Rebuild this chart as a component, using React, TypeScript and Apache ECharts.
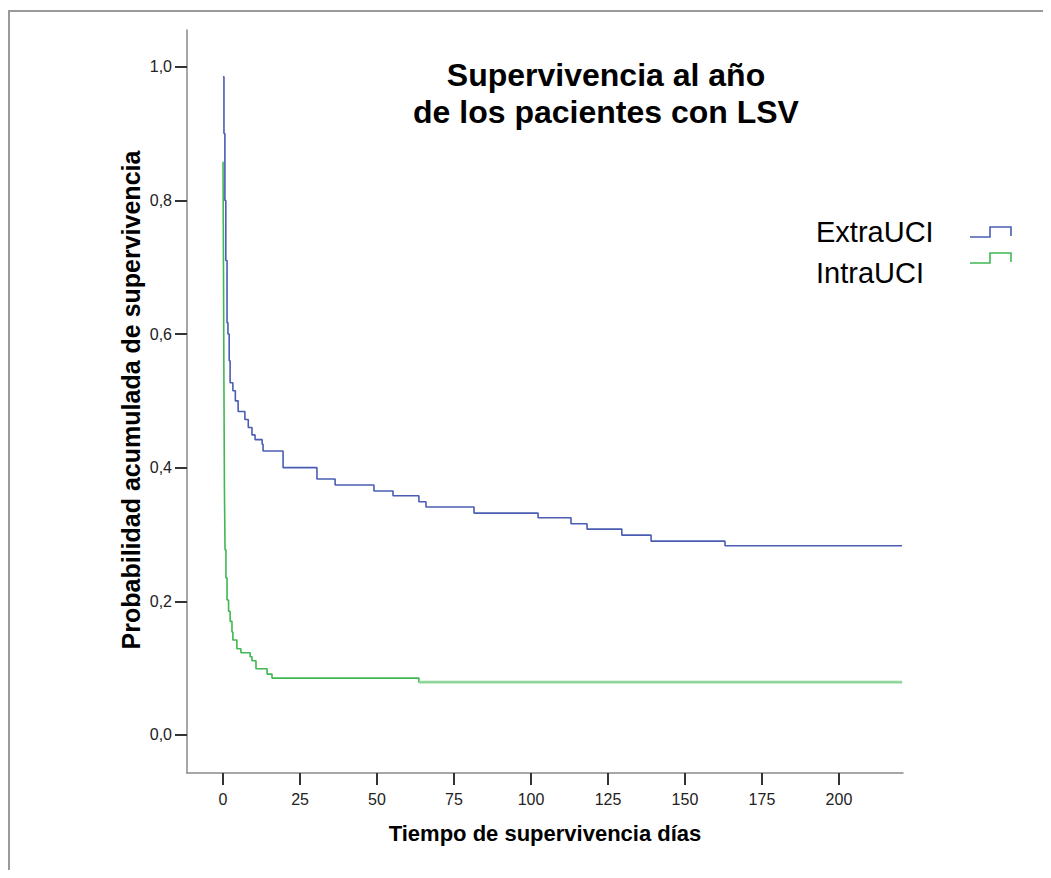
import React, { useEffect, useRef } from "react";
import * as echarts from "echarts";

const chartTitleLines = ["Supervivencia al año", "de los pacientes con LSV"];
const xAxisTitle = "Tiempo de supervivencia días";
const yAxisTitle = "Probabilidad acumulada de supervivencia";
const groupNames = ["ExtraUCI", "IntraUCI"];

const xTicks = [0, 25, 50, 75, 100, 125, 150, 175, 200];
const yTicks = [0, 0.2, 0.4, 0.6, 0.8, 1.0];

// Kaplan-Meier steps: day at which survival becomes the given value
const extraDays = [0, 0.3, 0.6, 0.9, 1.3, 1.6, 2.0, 2.3, 3.2, 4.0, 4.9, 7.1, 8.2, 9.4, 10.4, 12.7, 13.0, 19.5, 30.5, 36.4, 49.0, 55.2, 63.6, 65.9, 81.5, 102.3, 113.0, 118.2, 129.5, 139.0, 163.0, 220.5];
const extraSurv = [0.985, 0.9, 0.8, 0.71, 0.617, 0.6, 0.56, 0.527, 0.515, 0.5, 0.484, 0.472, 0.46, 0.449, 0.442, 0.435, 0.425, 0.4, 0.383, 0.374, 0.365, 0.358, 0.349, 0.341, 0.332, 0.325, 0.316, 0.308, 0.299, 0.29, 0.283, 0.283];

const intraDays = [0, 0.15, 0.3, 0.45, 0.65, 0.95, 1.3, 1.8, 2.3, 2.9, 3.2, 4.5, 5.8, 8.8, 9.4, 10.7, 14.3, 15.9, 63.6, 220.5];
const intraSurv = [0.858, 0.7, 0.52, 0.37, 0.277, 0.235, 0.202, 0.185, 0.17, 0.154, 0.142, 0.129, 0.123, 0.117, 0.111, 0.099, 0.091, 0.085, 0.079, 0.079];

const BLUE = "#4a5db3";
const GREEN = "#3fb851";
const GREEN_LIGHT = "#8ed69a";
const MAIN_FONT = "'Liberation Sans', Arial, sans-serif";

export default function App() {
  const ref = useRef<HTMLDivElement>(null);

  useEffect(() => {
    if (!ref.current) return;
    const chart = echarts.init(ref.current, null, { renderer: "svg" });
    const extraData = extraDays.map((d, i) => [d, extraSurv[i]]);
    const intraData = intraDays.map((d, i) => [d, intraSurv[i]]);
    const intraTail = intraData.slice(-2);

    chart.setOption({
      animation: false,
      backgroundColor: "#ffffff",
      grid: { left: 179, top: 22, width: 716, height: 743, containLabel: false },
      xAxis: {
        type: "value",
        min: -11.7,
        max: 220.8,
        splitLine: { show: false },
        axisLine: { show: true, onZero: false, lineStyle: { color: "#8a8a8a", width: 1.5 } },
        axisTick: { show: true, length: 12, customValues: xTicks, lineStyle: { color: "#333", width: 2 } },
        axisLabel: {
          customValues: xTicks,
          margin: 18,
          fontSize: 16,
          color: "#222",
          fontFamily: MAIN_FONT,
        },
      },
      yAxis: {
        type: "value",
        min: -0.057,
        max: 1.055,
        splitLine: { show: false },
        axisLine: { show: true, onZero: false, lineStyle: { color: "#8a8a8a", width: 1.5 } },
        axisTick: { show: true, length: 12, customValues: yTicks, lineStyle: { color: "#333", width: 2 } },
        axisLabel: {
          customValues: yTicks,
          margin: 15,
          fontSize: 16,
          color: "#222",
          fontFamily: MAIN_FONT,
          formatter: (v: number) => v.toFixed(1).replace(".", ","),
        },
      },
      series: [
        {
          name: groupNames[0],
          type: "line",
          step: "end",
          data: extraData,
          symbol: "none",
          lineStyle: { color: BLUE, width: 1.6 },
        },
        {
          name: groupNames[1],
          type: "line",
          step: "end",
          data: intraData,
          symbol: "none",
          lineStyle: { color: GREEN, width: 1.6 },
        },
        {
          name: groupNames[1] + " tail",
          type: "line",
          step: "end",
          data: intraTail,
          symbol: "none",
          lineStyle: { color: GREEN_LIGHT, width: 2.6 },
        },
      ],
      graphic: [
        { type: "line", shape: { x1: 0, y1: 3, x2: 1035, y2: 3 }, style: { stroke: "#9a9a9a", lineWidth: 2 } },
        { type: "line", shape: { x1: 1, y1: 2, x2: 1, y2: 862 }, style: { stroke: "#9a9a9a", lineWidth: 2 } },
        {
          type: "text",
          x: 598,
          y: 67,
          style: { text: chartTitleLines[0], fontSize: 32, fontWeight: "bold", fontFamily: MAIN_FONT, fill: "#000", textAlign: "center", textVerticalAlign: "middle" },
        },
        {
          type: "text",
          x: 598,
          y: 104,
          style: { text: chartTitleLines[1], fontSize: 32, fontWeight: "bold", fontFamily: MAIN_FONT, fill: "#000", textAlign: "center", textVerticalAlign: "middle" },
        },
        {
          type: "text",
          x: 537,
          y: 825,
          style: { text: xAxisTitle, fontSize: 22, fontWeight: "bold", fontFamily: MAIN_FONT, fill: "#000", textAlign: "center", textVerticalAlign: "middle" },
        },
        {
          type: "text",
          x: 123,
          y: 392,
          rotation: Math.PI / 2,
          style: { text: yAxisTitle, fontSize: 25, fontWeight: "bold", fontFamily: MAIN_FONT, fill: "#000", textAlign: "center", textVerticalAlign: "middle" },
        },
        {
          type: "text",
          x: 808,
          y: 224,
          style: { text: groupNames[0], fontSize: 29, fontFamily: MAIN_FONT, fill: "#000", textAlign: "left", textVerticalAlign: "middle" },
        },
        {
          type: "text",
          x: 808,
          y: 265,
          style: { text: groupNames[1], fontSize: 29, fontFamily: MAIN_FONT, fill: "#000", textAlign: "left", textVerticalAlign: "middle" },
        },
        {
          type: "polyline",
          shape: { points: [[962, 229], [982, 229], [982, 219], [1003, 219], [1003, 228]] },
          style: { stroke: BLUE, lineWidth: 1.6, fill: "none" },
        },
        {
          type: "polyline",
          shape: { points: [[962, 255], [982, 255], [982, 245], [1003, 245], [1003, 254]] },
          style: { stroke: GREEN, lineWidth: 1.6, fill: "none" },
        },
      ],
    });
    return () => chart.dispose();
  }, []);

  return <div ref={ref} style={{ width: 1035, height: 862 }} />;
}
